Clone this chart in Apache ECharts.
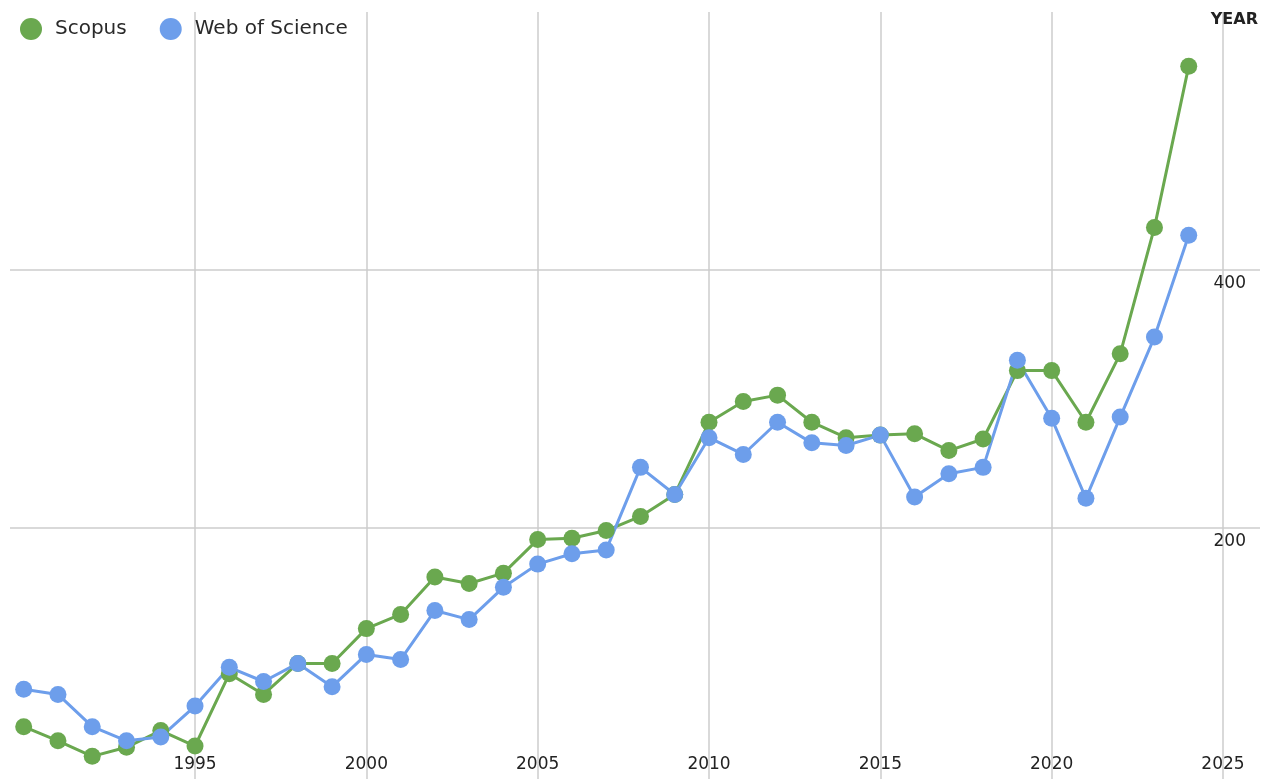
<!DOCTYPE html>
<html>
<head>
<meta charset="utf-8">
<title>Scopus vs Web of Science</title>
<script src="https://cdn.jsdelivr.net/npm/echarts@6/dist/echarts.min.js"></script>
<style>
  html, body { margin: 0; padding: 0; background: #fff; }
  #main { width: 1270px; height: 779px; }
</style>
</head>
<body>
<div id="main"></div>
<script>
// years on the x axis
var years = [1990, 1991, 1992, 1993, 1994, 1995, 1996, 1997, 1998, 1999,
  2000, 2001, 2002, 2003, 2004, 2005, 2006, 2007, 2008, 2009,
  2010, 2011, 2012, 2013, 2014, 2015, 2016, 2017, 2018, 2019,
  2020, 2021, 2022, 2023, 2024]

var scopus = [46, 35, 23, 30, 43, 31, 87, 71, 95, 95,
  122, 133, 162, 157, 165, 191, 192, 198, 209, 226,
  282, 298, 303, 282, 270, 272, 273, 260, 269, 322,
  322, 282, 335, 433, 558]
var wos = [75, 71, 46, 35, 38, 62, 92, 81, 95, 77,
  102, 98, 136, 129, 154, 172, 180, 183, 247, 226,
  270, 257, 282, 266, 264, 272, 224, 242, 247, 330,
  285, 223, 286, 348, 427]

var xTicks = [1995, 2000, 2005, 2010, 2015, 2020, 2025]
var yLabels = [200, 400]

var FONT = 'DejaVu Sans'

function pairs(vals) {
  return years.map(function (y, i) { return [y, vals[i]] })
}

var myChart = echarts.init(document.getElementById('main'))

var option = {
  animation: false,
  textStyle: { fontFamily: FONT },
  legend: {
    left: 15,
    top: 13,
    icon: 'circle',
    itemWidth: 22,
    itemHeight: 22,
    itemGap: 33,
    textStyle: { fontFamily: FONT, fontSize: 20, color: '#2a2a2a', padding: [0, 0, 0, 8] },
    data: ['Scopus', 'Web of Science']
  },
  grid: {
    left: 10,
    top: 12,
    width: 1250,
    height: 774,
    outerBoundsMode: 'none'
  },
  xAxis: {
    type: 'value',
    min: 1989.6,
    max: 2026.08,
    axisLine: { show: false },
    axisTick: { show: false, customValues: xTicks },
    axisLabel: {
      inside: true,
      margin: 13,
      customValues: xTicks,
      fontFamily: FONT,
      fontSize: 17,
      color: '#222',
      formatter: function (v) { return String(v) }
    },
    splitLine: { show: true, lineStyle: { color: '#cccccc', width: 1.5 } }
  },
  yAxis: {
    type: 'value',
    position: 'right',
    min: 0,
    max: 600,
    interval: 200,
    name: 'YEAR',
    nameLocation: 'end',
    nameGap: -8,
    nameTextStyle: {
      fontFamily: FONT,
      fontSize: 16,
      fontWeight: 'bold',
      color: '#222',
      align: 'right',
      verticalAlign: 'middle',
      padding: [0, 2, 0, 0]
    },
    axisLine: { show: false },
    axisTick: { show: false },
    axisLabel: {
      inside: true,
      margin: 14,
      fontFamily: FONT,
      fontSize: 17,
      color: '#222',
      verticalAlign: 'top',
      padding: [5, 0, 0, 0],
      formatter: function (v) {
        return yLabels.indexOf(v) >= 0 ? String(v) : ''
      }
    },
    splitLine: {
      show: true,
      showMaxLine: false,
      lineStyle: { color: '#cccccc', width: 1.5 }
    }
  },
  series: [
    {
      name: 'Scopus',
      type: 'line',
      data: pairs(scopus),
      symbol: 'circle',
      symbolSize: 17,
      color: '#6aa84f',
      lineStyle: { width: 3 }
    },
    {
      name: 'Web of Science',
      type: 'line',
      data: pairs(wos),
      symbol: 'circle',
      symbolSize: 17,
      color: '#6d9eeb',
      lineStyle: { width: 3 }
    }
  ]
}

myChart.setOption(option)
</script>
</body>
</html>
